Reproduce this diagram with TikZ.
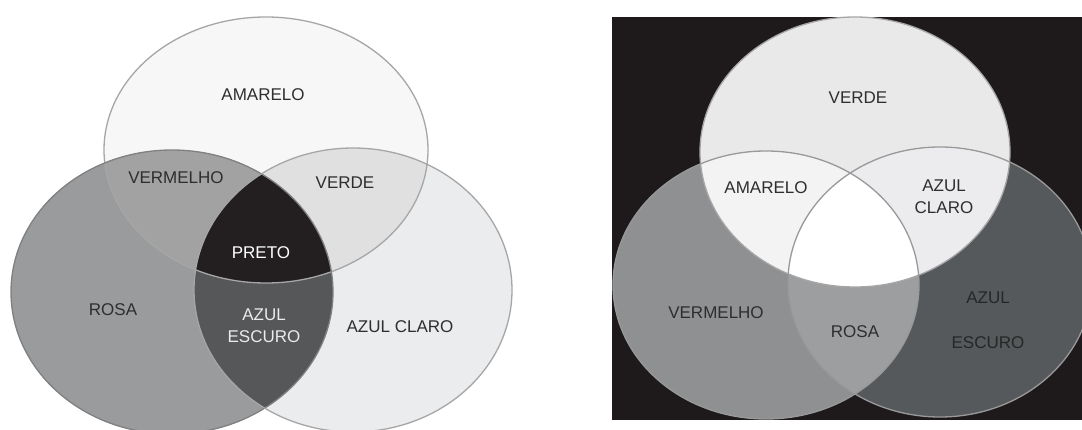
\documentclass[tikz,border=0pt]{standalone}
\usepackage{fontspec}
\setmainfont{Liberation Sans}
\definecolor{rim gray}{HTML}{A6A6A6}
\definecolor{label gray}{HTML}{2E2E2E}
\definecolor{night}{HTML}{1E1A1B}
% left diagram tones
\definecolor{amareloL}{HTML}{F7F7F7}
\definecolor{rosaL}{HTML}{999B9D}
\definecolor{claroL}{HTML}{EBECEE}
\definecolor{vermelhoL}{HTML}{A2A2A2}
\definecolor{verdeL}{HTML}{E0E0E0}
\definecolor{escuroL}{HTML}{555759}
\definecolor{pretoL}{HTML}{231F20}
% right diagram tones
\definecolor{verdeR}{HTML}{E9E9E9}
\definecolor{vermelhoR}{HTML}{8E9092}
\definecolor{escuroR}{HTML}{56595B}
\definecolor{amareloR}{HTML}{F3F3F3}
\definecolor{claroR}{HTML}{ECECEF}
\definecolor{rosaR}{HTML}{9C9EA0}

\begin{document}
\begin{tikzpicture}[x=1pt, y=-1pt,
my label/.style = {font=\fontsize{17}{22}\selectfont,
                   text=label gray, align=center,
                   inner sep=0pt},
my rim/.style   = {draw=rim gray, line width=1.3pt},
top size/.style = {x radius=162pt, y radius=133pt},
left size/.style = {x radius=161pt, y radius=142pt},
right size/.style = {x radius=159pt, y radius=142pt},
up size/.style  = {x radius=155pt, y radius=135pt},
lo size/.style  = {x radius=153pt, y radius=134pt},
ro size/.style  = {x radius=152pt, y radius=135pt}
                   ]
\useasboundingbox (0,0) rectangle (1082,430);
\fill[white] (0,0) rectangle (1082,430);

% left diagram
\coordinate (lt) at (266,150);
\coordinate (ll) at (172,292);
\coordinate (lr) at (353,290);
\fill[amareloL] (lt) ellipse [top size];
\fill[rosaL] (ll) ellipse [left size];
\fill[claroL] (lr) ellipse [right size];
\begin{scope}
  \clip (ll) ellipse [left size];
  \fill[escuroL] (lr) ellipse [right size];
\end{scope}
\begin{scope}
  \clip (lt) ellipse [top size];
  \fill[vermelhoL] (ll) ellipse [left size];
  \fill[verdeL] (lr) ellipse [right size];
  \clip (ll) ellipse [left size];
  \fill[pretoL] (lr) ellipse [right size];
\end{scope}
\draw[my rim] (lt) ellipse [top size];
\draw[my rim, draw=gray] (ll) ellipse [left size];
\draw[my rim] (lr) ellipse [right size];

\node[my label] (amareloA) at (263,95) {AMARELO};
\node[my label] (vermelhoA) at (176,178) {VERMELHO};
\node[my label] (verdeA) at (345,183) {VERDE};
\node[my label, text=white] (pretoA) at (261,253) {PRETO};
\node[my label] (rosaA) at (113,310) {ROSA};
\node[my label, text=white!92!black] (escuroA) at (264,326) {AZUL\\ESCURO};
\node[my label] (claroA) at (400,327) {AZUL CLARO};

% right diagram
\fill[night] (612,17) rectangle (1082,420);
\begin{scope}
  \clip (612,17) rectangle (1082,420);
  \coordinate (rt) at (855,152);
  \coordinate (rl) at (766,285);
  \coordinate (rr) at (940,282);
  \fill[verdeR] (rt) ellipse [up size];
  \fill[vermelhoR] (rl) ellipse [lo size];
  \fill[escuroR] (rr) ellipse [ro size];
  \begin{scope}
    \clip (rl) ellipse [lo size];
    \fill[rosaR] (rr) ellipse [ro size];
  \end{scope}
  \begin{scope}
    \clip (rt) ellipse [up size];
    \fill[amareloR] (rl) ellipse [lo size];
    \fill[claroR] (rr) ellipse [ro size];
    \clip (rl) ellipse [lo size];
    \fill[white] (rr) ellipse [ro size];
  \end{scope}
  \draw[my rim, draw=gray!70] (rt) ellipse [up size];
  \draw[my rim, draw=gray!80] (rl) ellipse [lo size];
  \draw[my rim, draw=gray!80] (rr) ellipse [ro size];
\end{scope}

\node[my label] (verdeB) at (858,98) {VERDE};
\node[my label] (amareloB) at (766,188) {AMARELO};
\node[my label] (claroB) at (944,197) {AZUL\\CLARO};
\node[my label] (vermelhoB) at (716,313) {VERMELHO};
\node[my label] (rosaB) at (855,332) {ROSA};
\node[my label, text=black!85, font=\fontsize{17}{45}\selectfont] (escuroB) at (988,320) {AZUL\\ESCURO};

\end{tikzpicture}
\end{document}
